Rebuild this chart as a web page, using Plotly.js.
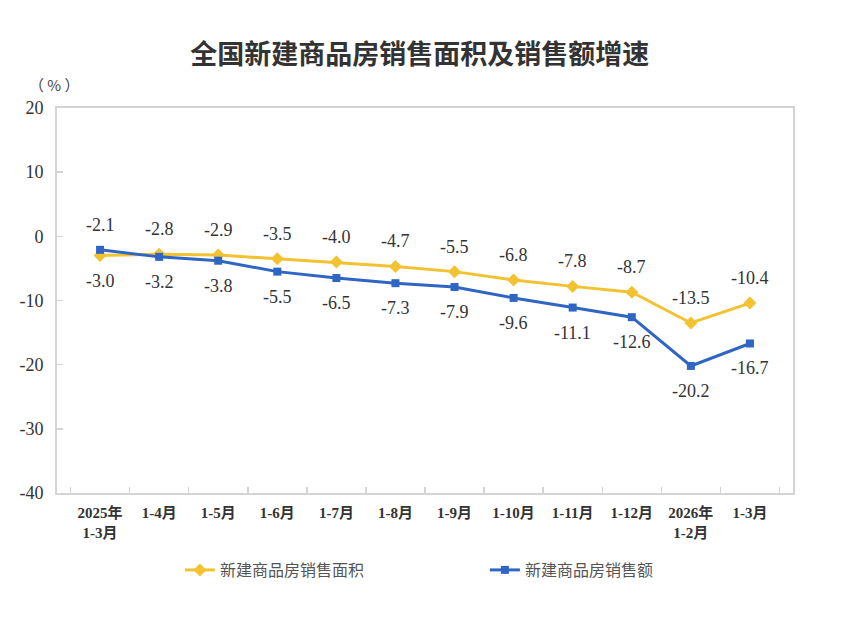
<!DOCTYPE html>
<html>
<head>
<meta charset="utf-8">
<script src="https://cdn.plot.ly/plotly-3.0.1.min.js"></script>
<style>
  html, body { margin: 0; padding: 0; background: #fff; }
  #chart { width: 848px; height: 620px; }
</style>
</head>
<body>
<div id="chart"></div>
<script>
// 月份（累计）
const months = ['2025年<br>1-3月', '1-4月', '1-5月', '1-6月', '1-7月', '1-8月',
                '1-9月', '1-10月', '1-11月', '1-12月', '2026年<br>1-2月', '1-3月'];

// 新建商品房销售面积增速 (%)
const areaGrowth = [-3.0, -2.8, -2.9, -3.5, -4.0, -4.7, -5.5, -6.8, -7.8, -8.7, -13.5, -10.4];
// 新建商品房销售额增速 (%)
const salesGrowth = [-2.1, -3.2, -3.8, -5.5, -6.5, -7.3, -7.9, -9.6, -11.1, -12.6, -20.2, -16.7];

const yTicks = [-40, -30, -20, -10, 0, 10, 20];
const yTickText = ['-40', '-30', '-20', '-10', '0', '10', '20'];

const serif = 'Liberation Serif, Noto Sans CJK SC, serif';
const cjk = 'Noto Sans CJK SC, sans-serif';
const yellow = '#F3C230';
const blue = '#2F66C4';

let traces = [
  {
    x: months, y: areaGrowth,
    name: '新建商品房销售面积',
    type: 'scatter', mode: 'lines+markers',
    line: { color: yellow, width: 3 },
    marker: { symbol: 'diamond', size: 10, color: yellow },
    hoverinfo: 'skip'
  },
  {
    x: months, y: salesGrowth,
    name: '新建商品房销售额',
    type: 'scatter', mode: 'lines+markers',
    line: { color: blue, width: 3 },
    marker: { symbol: 'square', size: 8, color: blue },
    hoverinfo: 'skip'
  }
];

// 数据标签：第一个点销售额在上，其余面积在上
let annotations = [];
months.forEach((m, i) => {
  const areaUp = areaGrowth[i] >= salesGrowth[i];
  annotations.push({
    x: m, y: areaGrowth[i], text: areaGrowth[i].toFixed(1),
    showarrow: false, yshift: areaUp ? 25 : -25,
    font: { family: serif, size: 18, color: '#333' }
  });
  annotations.push({
    x: m, y: salesGrowth[i], text: salesGrowth[i].toFixed(1),
    showarrow: false, yshift: areaUp ? -25 : 25,
    font: { family: serif, size: 18, color: '#333' }
  });
});

annotations.push({
  xref: 'paper', yref: 'paper', x: -0.003, y: 1.06,
  xanchor: 'center', yanchor: 'middle',
  text: '（ % ）', showarrow: false,
  font: { family: cjk, size: 15, color: '#444' }
});

let layout = {
  width: 848, height: 620,
  margin: { l: 57, r: 55, t: 108, b: 127 },
  paper_bgcolor: '#fff', plot_bgcolor: '#fff',
  title: {
    text: '<b>全国新建商品房销售面积及销售额增速</b>',
    x: 0.495, xanchor: 'center', y: 0.912, yanchor: 'middle',
    font: { family: cjk, size: 27, color: '#333' }
  },
  xaxis: {
    type: 'category',
    showgrid: false, zeroline: false,
    showline: true, linecolor: '#d4d4d4', linewidth: 2, mirror: true,
    ticks: 'inside', ticklen: 6, tickcolor: '#d4d4d4', tickwidth: 1.5,
    tickson: 'boundaries',
    ticklabelstandoff: 5,
    tickfont: { family: serif, size: 15, color: '#333', weight: 'bold' },
    fixedrange: true
  },
  yaxis: {
    range: [-40, 20],
    tickvals: yTicks,
    ticktext: yTickText,
    showgrid: false, zeroline: false,
    showline: true, linecolor: '#d4d4d4', linewidth: 2, mirror: true,
    ticks: 'inside', ticklen: 6, tickcolor: '#d4d4d4', tickwidth: 1.5,
    ticklabelstandoff: 8,
    tickfont: { family: serif, size: 18, color: '#333' },
    fixedrange: true
  },
  showlegend: true,
  legend: {
    orientation: 'h',
    x: 0.167, xanchor: 'left',
    y: -0.2, yanchor: 'middle',
    entrywidth: 260, entrywidthmode: 'pixels',
    font: { family: cjk, size: 16, color: '#555' },
    bgcolor: 'rgba(0,0,0,0)'
  },
  annotations: annotations
};

Plotly.newPlot('chart', traces, layout, { displayModeBar: false, staticPlot: true });
</script>
</body>
</html>
